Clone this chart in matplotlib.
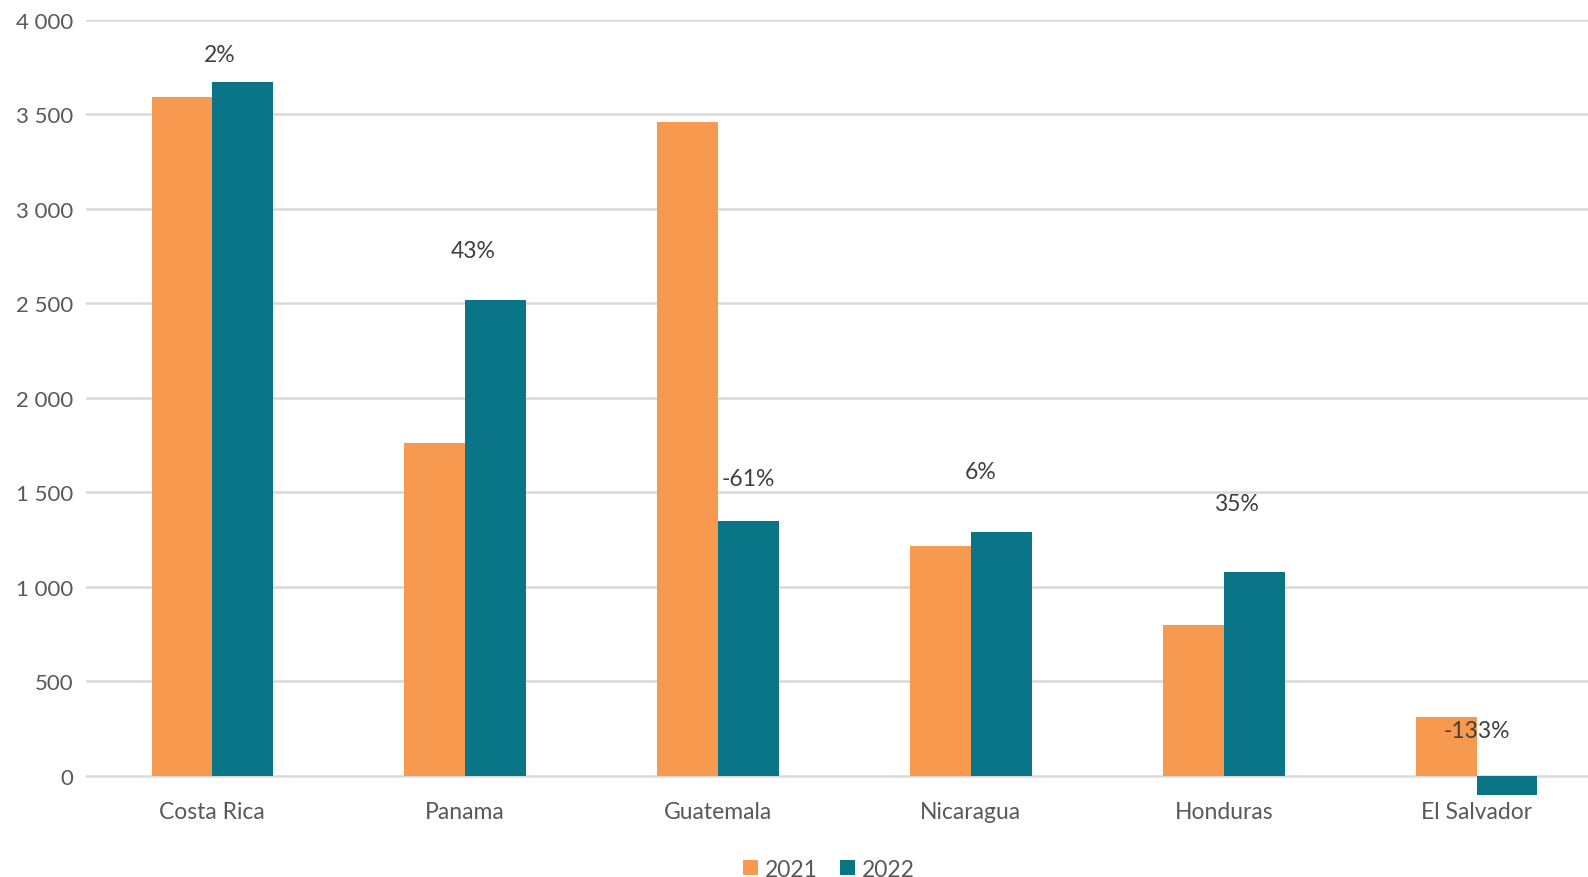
import matplotlib.pyplot as plt
import matplotlib.ticker as ticker
import numpy as np

plt.rcParams['font.family'] = ['Lato', 'DejaVu Sans']

countries = ["Costa Rica", "Panama", "Guatemala", "Nicaragua", "Honduras", "El Salvador"]
values_2021 = [3590, 1760, 3460, 1215, 800, 308]
values_2022 = [3670, 2515, 1350, 1290, 1078, -102]
change_labels = ["2%", "43%", "-61%", "6%", "35%", "-133%"]
# hidden series carrying the change labels
label_level = [3817, 2778, 1574, 1611, 1440, 241]
label_shift = [0.03, 0.03, 0.12, 0.04, 0.05, 0.0]

ORANGE = "#F79A50"
TEAL = "#0A7587"
GREY_TXT = "#595959"

fig = plt.figure(figsize=(15.88, 8.78), dpi=100)
ax = fig.add_axes([0.054, 0.0917, 0.946, 0.8847])

x = np.arange(len(countries))
w = 0.24
ax.bar(x - w / 2, values_2021, w, color=ORANGE, label="2021", zorder=3)
ax.bar(x + w / 2, values_2022, w, color=TEAL, label="2022", zorder=3)

for i, txt in enumerate(change_labels):
    ax.text(x[i] + label_shift[i], label_level[i], txt, ha="center", va="center",
            fontsize=16.5, color="#404040", zorder=4)

ax.set_xlim(-0.5, 5.44)
ax.set_ylim(-110, 4000)
ax.set_yticks(np.arange(0, 4001, 500))
ax.yaxis.set_major_formatter(ticker.FuncFormatter(lambda v, p: f"{int(v):,}".replace(",", " ")))
ax.grid(axis="y", color="#D9D9D9", linewidth=1.8, zorder=0)
ax.set_axisbelow(True)

ax.set_xticks(x)
ax.set_xticklabels(countries)
ax.tick_params(axis="both", length=0, colors=GREY_TXT)
ax.tick_params(axis="y", pad=9, labelsize=16)
ax.tick_params(axis="x", pad=3, labelsize=16.5)
for s in ax.spines.values():
    s.set_visible(False)

leg = fig.legend(loc="center", bbox_to_anchor=(0.522, 0.009), ncol=2, frameon=False,
                 fontsize=16.5, handlelength=0.65, handleheight=0.65, handletextpad=0.3,
                 columnspacing=1.0)
for t in leg.get_texts():
    t.set_color(GREY_TXT)

fig.savefig("out.png", dpi=100)
